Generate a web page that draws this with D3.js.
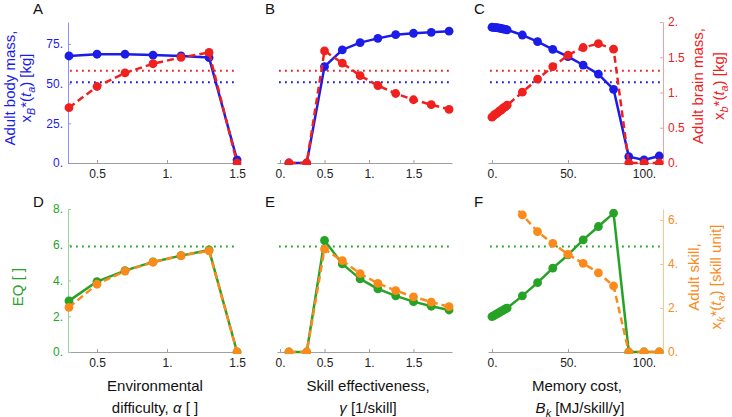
<!DOCTYPE html>
<html><head><meta charset="utf-8">
<script src="https://cdn.jsdelivr.net/npm/d3@7"></script>
<style>body{margin:0;background:#fff} text{font-family:"Liberation Sans",Arial,sans-serif}</style>
</head><body><svg id="c" width="732" height="417"></svg>
<script>
// ---------- data ----------
const xAlpha = [0.3,0.5,0.7,0.9,1.1,1.3,1.5];
const bodyAlpha = [67.4,68.5,68.5,68.0,67.4,66.4,2.0];
const brainAlpha = [0.785,1.085,1.277,1.408,1.497,1.568,0];
const eqAlpha = [2.86,3.94,4.55,5.04,5.39,5.71,0];
const skillAlpha = [2.03,3.08,3.68,4.08,4.38,4.60,0];

const xGamma = [0.1,0.3,0.5,0.7,0.9,1.1,1.3,1.5,1.7,1.9];
const bodyGamma = [0,0,60.7,71.2,75.8,78.5,80.8,81.7,82.3,83.0];
const brainGamma = [0,0,1.59,1.418,1.239,1.099,0.986,0.897,0.827,0.76];
const eqGamma = [0,0,6.24,4.93,4.09,3.53,3.14,2.82,2.56,2.35];
const skillGamma = [0,0,4.68,4.15,3.56,3.12,2.79,2.51,2.27,2.06];

const xBk = [0,1,2,3,4,5,6,7,8,9,10,20,30,40,50,60,70,80,90,100,110];
const bodyBk = [85.5,85.4,85.3,85.2,85.1,84.9,84.7,84.5,84.3,84.1,83.9,80.6,76.4,71.6,67.0,61.7,56.0,46.4,4.0,1.9,4.4];
const brainBk = [0.65,0.67,0.69,0.70,0.72,0.74,0.75,0.77,0.79,0.80,0.82,1.004,1.19,1.366,1.53,1.638,1.694,1.615,0,0,0];
const eqBk = [1.98,2.02,2.07,2.12,2.17,2.22,2.27,2.32,2.37,2.42,2.46,3.14,3.88,4.69,5.43,6.27,7.02,7.77,0,0,0];
const skillBk = [8.0,7.9,7.8,7.7,7.6,7.5,7.4,7.3,7.2,7.1,7.0,6.23,5.47,4.94,4.44,4.03,3.60,3.00,0,0,0];

// reference (dotted) levels
const bodyRef = 50.8, brainRef = 1.31, eqRef = 5.9;

// tick labels
const ticksAlpha = [0.5,1,1.5];
const ticksGamma = [0,0.5,1,1.5];
const ticksBk = [0,50,100];
const ticksBody = [0,25,50,75];
const ticksBrain = [0,0.5,1,1.5,2];
const ticksEQ = [0,2,4,6,8];
const ticksSkill = [0,2,4,6];

// ---------- style ----------
const C = {blue:"#1c1ce8", red:"#f0201e", green:"#26a326", orange:"#fb8a1a",
           lblue:"#8f8ff0", lred:"#f5a0a0", lgreen:"#9ad29a", lorange:"#fcc690", gray:"#a0a0a0"};
const fmt = d => Number.isInteger(d) ? d + "." : String(d);

const svg = d3.select("#c");
const cols = [{x0:68,x1:240,dom:[0.293,1.521],ticks:ticksAlpha,x:xAlpha},
              {x0:277,x1:452,dom:[-0.034,1.933],ticks:ticksGamma,x:xGamma},
              {x0:488,x1:663,dom:[-2.6,112.5],ticks:ticksBk,x:xBk}];
const rows = [{top:22,bottom:163},{top:209,bottom:352}];

const yBody = d3.scaleLinear().domain([0,88.8]).range([rows[0].bottom,rows[0].top]);
const yBrain = d3.scaleLinear().domain([0,2]).range([rows[0].bottom,rows[0].top]);
const yEQ = d3.scaleLinear().domain([0,8]).range([rows[1].bottom,rows[1].top]);
const ySkill = d3.scaleLinear().domain([0,6.5]).range([rows[1].bottom,rows[1].top]);

const panelData = [
  [{y:bodyAlpha,s:yBody,c:C.blue,dash:null},{y:brainAlpha,s:yBrain,c:C.red,dash:"7,4"}],
  [{y:bodyGamma,s:yBody,c:C.blue,dash:null},{y:brainGamma,s:yBrain,c:C.red,dash:"7,4"}],
  [{y:bodyBk,s:yBody,c:C.blue,dash:null},{y:brainBk,s:yBrain,c:C.red,dash:"7,4"}],
  [{y:eqAlpha,s:yEQ,c:C.green,dash:null},{y:skillAlpha,s:ySkill,c:C.orange,dash:"7,4"}],
  [{y:eqGamma,s:yEQ,c:C.green,dash:null},{y:skillGamma,s:ySkill,c:C.orange,dash:"7,4"}],
  [{y:eqBk,s:yEQ,c:C.green,dash:null},{y:skillBk,s:ySkill,c:C.orange,dash:"7,4"}]
];
const refs = [
  [{v:brainRef,s:yBrain,c:C.red},{v:bodyRef,s:yBody,c:C.blue}],
  [{v:eqRef,s:yEQ,c:C.green}]
];
const letters = ["A","B","C","D","E","F"];
const letterX = [33,265,474];
const letterY = [14,207];

function styleAxis(g, lineCol, textCol){
  g.select(".domain").attr("stroke",lineCol).attr("stroke-width",1);
  g.selectAll(".tick line").attr("stroke",lineCol);
  g.selectAll(".tick text").attr("fill",textCol).attr("font-size",12)
    .attr("font-family",'"Liberation Sans",Arial,sans-serif');
}

rows.forEach((row,ri)=>{
  cols.forEach((col,ci)=>{
    const idx = ri*3+ci;
    const x = d3.scaleLinear().domain(col.dom).range([col.x0,col.x1]);
    const g = svg.append("g");
    // x axis
    const ax = g.append("g").attr("transform",`translate(0,${row.bottom})`)
      .call(d3.axisBottom(x).tickValues(col.ticks).tickFormat(fmt).tickSizeInner(-3).tickSizeOuter(0).tickPadding(6));
    styleAxis(ax, C.gray, "#222");
    // y axes
    if(ci===0){
      const s = ri===0?yBody:yEQ, t = ri===0?ticksBody:ticksEQ;
      const ay = g.append("g").attr("transform",`translate(${col.x0},0)`)
        .call(d3.axisLeft(s).tickValues(t).tickFormat(fmt).tickSizeInner(-3).tickSizeOuter(0).tickPadding(5));
      styleAxis(ay, ri===0?C.lblue:C.lgreen, ri===0?C.blue:C.green);
    }
    if(ci===2){
      const s = ri===0?yBrain:ySkill, t = ri===0?ticksBrain:ticksSkill;
      const ay = g.append("g").attr("transform",`translate(${col.x1},0)`)
        .call(d3.axisRight(s).tickValues(t).tickFormat(fmt).tickSizeInner(-3).tickSizeOuter(0).tickPadding(5));
      styleAxis(ay, ri===0?C.lred:C.lorange, ri===0?C.red:C.orange);
    }
    // reference dotted lines
    refs[ri].forEach(r=>{
      g.append("line").attr("x1",col.x0+2).attr("x2",col.x1-2)
        .attr("y1",r.s(r.v)).attr("y2",r.s(r.v))
        .attr("stroke",r.c).attr("stroke-width",2).attr("stroke-dasharray","1.8,4.2");
    });
    // clip
    const cid = "clip"+idx;
    svg.append("clipPath").attr("id",cid).append("rect")
      .attr("x",col.x0-6).attr("y",row.top).attr("width",col.x1-col.x0+12).attr("height",row.bottom-row.top+2);
    const pg = g.append("g").attr("clip-path",`url(#${cid})`);
    panelData[idx].forEach(ser=>{
      const pts = col.x.map((xv,i)=>[x(xv),ser.s(ser.y[i])]);
      pg.append("path").attr("d",d3.line()(pts)).attr("fill","none")
        .attr("stroke",ser.c).attr("stroke-width",2.5)
        .attr("stroke-dasharray",ser.dash).attr("stroke-linejoin","round");
      pg.selectAll(null).data(pts).join("circle")
        .attr("cx",d=>d[0]).attr("cy",d=>d[1]).attr("r",4.4).attr("fill",ser.c);
    });
    // letter
    svg.append("text").attr("x",letterX[ci]).attr("y",letterY[ri])
      .attr("font-size",15).attr("fill","#111").text(letters[idx]);
  });
});

// rich text helper
function rich(sel, parts){
  let shift = 0;
  parts.forEach(p=>{
    const target = p.sub ? 3.5 : 0;
    const ts = sel.append("tspan").text(p.t).attr("dy", target-shift);
    if(p.it) ts.attr("font-style","italic");
    if(p.sub) ts.attr("font-size","0.72em");
    shift = target;
  });
}
function vlabel(x,y,color,parts){
  const t = svg.append("text").attr("transform",`translate(${x},${y}) rotate(-90)`)
    .attr("text-anchor","middle").attr("font-size",15).attr("fill",color);
  rich(t,parts);
}
function hlabel(x,y,parts){
  const t = svg.append("text").attr("x",x).attr("y",y)
    .attr("text-anchor","middle").attr("font-size",15).attr("fill","#111");
  rich(t,parts);
}
vlabel(15,88,C.blue,[{t:"Adult body mass,"}]);
vlabel(31,88,C.blue,[{t:"x"},{t:"B",sub:true,it:true},{t:"*("},{t:"t",it:true},{t:"a",sub:true,it:true},{t:") [kg]"}]);
vlabel(703,86,C.red,[{t:"Adult brain mass,"}]);
vlabel(724,86,C.red,[{t:"x"},{t:"b",sub:true,it:true},{t:"*("},{t:"t",it:true},{t:"a",sub:true,it:true},{t:") [kg]"}]);
vlabel(23,287,C.green,[{t:"EQ [ ]"}]);
vlabel(699,277,C.orange,[{t:"Adult skill,"}]);
vlabel(721,277,C.orange,[{t:"x"},{t:"k",sub:true,it:true},{t:"*("},{t:"t",it:true},{t:"a",sub:true,it:true},{t:") [skill unit]"}]);

hlabel(155,391,[{t:"Environmental"}]);
hlabel(155,413,[{t:"difficulty, "},{t:"α",it:true},{t:" [ ]"}]);
hlabel(368,391,[{t:"Skill effectiveness,"}]);
hlabel(368,413,[{t:"γ",it:true},{t:" [1/skill]"}]);
hlabel(577,391,[{t:"Memory cost,"}]);
hlabel(580,413,[{t:"B",it:true},{t:"k",sub:true,it:true},{t:" [MJ/skill/y]"}]);
</script></body></html>
